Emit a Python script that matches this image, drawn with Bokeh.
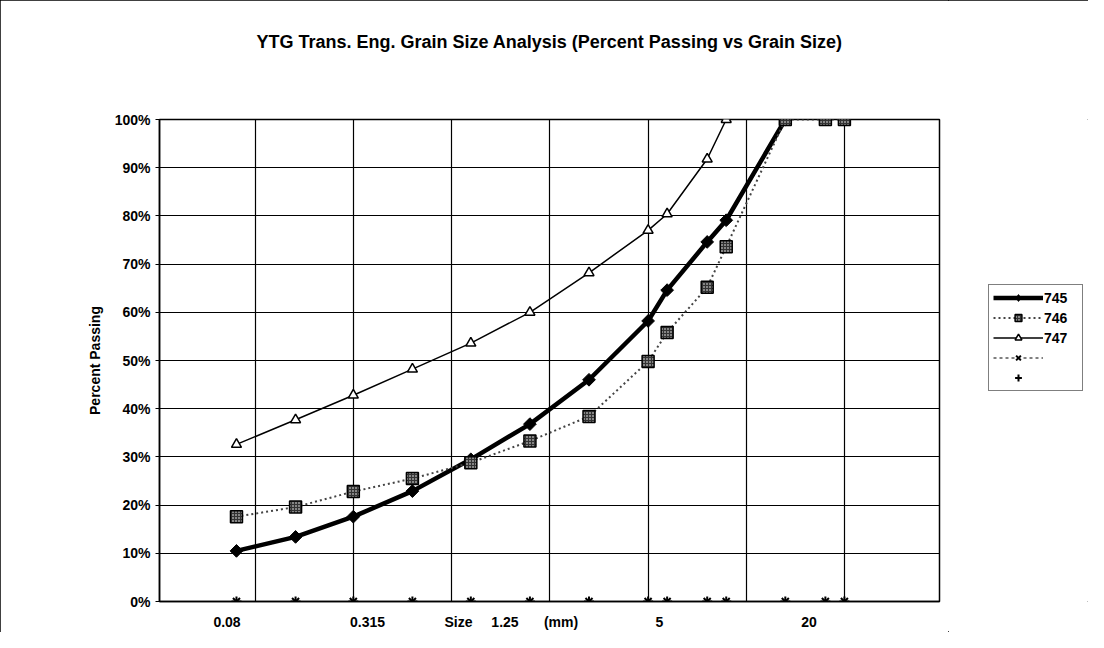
import math
from bokeh.plotting import figure
from bokeh.layouts import row
from bokeh.models import (FixedTicker, Legend, LegendItem, PrintfTickFormatter,
                          Range1d, CustomJSTickFormatter, ColumnDataSource, Title)
from bokeh.embed import file_html
from bokeh.resources import INLINE
from bokeh.core.properties import value

# ---------------- data ----------------
sizes_mm = [0.08, 0.16, 0.315, 0.63, 1.25, 2.5, 5, 10, 12.5, 20, 25, 50, 80, 100]
pass_745 = [10.5, 13.4, 17.6, 22.9, 29.5, 36.8, 46.0, 58.2, 64.6, 74.6, 79.1, 100.0]
pass_746 = [17.6, 19.6, 22.8, 25.5, 28.8, 33.3, 38.4, 49.8, 55.8, 65.2, 73.6, 100.0, 100.0, 100.0]
pass_747 = [32.6, 37.7, 42.8, 48.2, 53.6, 60.0, 68.2, 77.0, 80.4, 91.8, 100.0]
pass_s4 = [0, 0, 0, 0, 0, 0, 0, 0, 0, 0, 0, 0, 0, 0]
pass_s5 = [0, 0, 0, 0, 0, 0, 0, 0, 0, 0, 0, 0, 0, 0]
series_names = ["745", "746", "747", "", ""]
x_tick_text = ["0.08", "0.315", "Size", "1.25", "(mm)", "5", "20"]
y_ticks = [0, 10, 20, 30, 40, 50, 60, 70, 80, 90, 100]
title_text = "YTG Trans. Eng. Grain Size Analysis (Percent Passing vs Grain Size)"

# ---------------- layout / style ----------------
FONT = "Liberation Sans"
x_label_at = [0.0716, 0.372, 1.082, 1.866, 3.60, 11.43, 66.0]
x_grid_at = [0.1, 10 ** -0.5, 1, 10 ** 0.5, 10, 10 ** 1.5, 100]

src745 = ColumnDataSource(dict(x=sizes_mm[:len(pass_745)], y=pass_745))
src746 = ColumnDataSource(dict(x=sizes_mm, y=pass_746))
src747 = ColumnDataSource(dict(x=sizes_mm[:len(pass_747)], y=pass_747))
src4 = ColumnDataSource(dict(x=sizes_mm, y=pass_s4))
src5 = ColumnDataSource(dict(x=sizes_mm, y=pass_s5))

p = figure(width=948, height=632, x_axis_type="log",
           x_range=Range1d(0.03243, 305.1), y_range=Range1d(0, 100),
           output_backend="svg", toolbar_location=None, title=None,
           min_border_left=159, min_border_right=9,
           min_border_top=119, min_border_bottom=29,
           background_fill_color="white", border_fill_color="white")

# spacer (nearest the frame) then the real title above it
p.add_layout(Title(text=" ", text_font_size="10px", standoff=55), "above")
p.add_layout(Title(text=title_text, text_font=FONT, text_font_size="18px",
                   text_font_style="bold", text_color="black", align="center",
                   standoff=0), "above")

p.outline_line_color = "black"
p.outline_line_width = 1.5
p.outline_line_alpha = 1

# axes
xa = p.xaxis[0]
xa.ticker = FixedTicker(ticks=x_label_at)
xa.formatter = CustomJSTickFormatter(args=dict(labels=x_tick_text), code="return labels[index];")
xa.major_tick_out = 0
xa.major_tick_in = 0
xa.minor_tick_out = 0
xa.minor_tick_in = 0
xa.axis_line_color = "black"
xa.axis_line_width = 1.5
xa.major_label_standoff = 12
xa.major_label_text_font = FONT
xa.major_label_text_font_size = "14px"
xa.major_label_text_font_style = "bold"
xa.major_label_text_color = "black"

ya = p.yaxis[0]
ya.ticker = FixedTicker(ticks=y_ticks)
ya.formatter = PrintfTickFormatter(format="%d%%")
ya.major_tick_out = 4
ya.major_tick_in = 0
ya.minor_tick_out = 0
ya.minor_tick_in = 0
ya.axis_line_color = "black"
ya.axis_line_width = 1.5
ya.major_tick_line_color = "black"
ya.major_label_standoff = 5
ya.major_label_text_font = FONT
ya.major_label_text_font_size = "14px"
ya.major_label_text_font_style = "bold"
ya.major_label_text_color = "black"
ya.axis_label = "Percent Passing"
ya.axis_label_text_font = FONT
ya.axis_label_text_font_size = "14px"
ya.axis_label_text_font_style = "bold"
ya.axis_label_text_color = "black"
ya.axis_label_standoff = 9

p.xgrid.ticker = FixedTicker(ticks=x_grid_at)
p.ygrid.ticker = FixedTicker(ticks=y_ticks)
for g in (p.xgrid[0], p.ygrid[0]):
    g.grid_line_color = "black"
    g.grid_line_width = 1.2
    g.grid_line_alpha = 1

# ---------------- series styles ----------------
st745_line = dict(line_color="black", line_width=4.5)
st745_mark = dict(marker="square", angle=math.pi / 4, size=9, fill_color="black", line_color="black")
st745_mark_leg = dict(marker="diamond", size=13, fill_color="black", line_color="black")
st746_line = dict(line_color="#444444", line_width=2, line_dash="2 3")
st746_mark = dict(marker="square", size=12, fill_color="#333333", line_color="black", line_width=1.5,
                  hatch_pattern="dot", hatch_color="white", hatch_scale=3, hatch_weight=1)
st747_line = dict(line_color="black", line_width=1.5)
st747_mark = dict(marker="triangle", size=10, fill_color="white", line_color="black", line_width=1.5)
st4_line = dict(line_color="black", line_width=1, line_dash="3 3")
st4_mark = dict(marker="x", size=10, line_color="black", line_width=2)
st5_mark = dict(marker="cross", size=10, line_color="black", line_width=2)


def draw(fig, m745):
    return [
        [fig.line("x", "y", source=src745, **st745_line), fig.scatter("x", "y", source=src745, **m745)],
        [fig.line("x", "y", source=src746, **st746_line), fig.scatter("x", "y", source=src746, **st746_mark)],
        [fig.line("x", "y", source=src747, **st747_line), fig.scatter("x", "y", source=src747, **st747_mark)],
        [fig.line("x", "y", source=src4, **st4_line), fig.scatter("x", "y", source=src4, **st4_mark)],
        [fig.scatter("x", "y", source=src5, **st5_mark)],
    ]


draw(p, st745_mark)

# ---------------- legend panel (separate figure to the right) ----------------
pl = figure(width=140, height=632, output_backend="svg", toolbar_location=None,
            x_range=Range1d(-20, -10), y_range=Range1d(-20, -10),
            x_axis_location=None, y_axis_location=None,
            min_border_left=0, min_border_right=0, min_border_top=0, min_border_bottom=0,
            background_fill_color="white", border_fill_color="white", title=None)
pl.grid.visible = False
pl.outline_line_color = None

legend_renderers = draw(pl, st745_mark_leg)

legend = Legend(items=[LegendItem(label=value(name), renderers=rs)
                       for name, rs in zip(series_names, legend_renderers)],
                location=(40, 210))
legend.border_line_color = "black"
legend.border_line_width = 1.5
legend.background_fill_color = "white"
legend.padding = 4
legend.margin = 0
legend.spacing = 3
legend.glyph_width = 50
legend.glyph_height = 17
legend.label_height = 17
legend.label_width = 34
legend.label_standoff = 1
legend.label_text_font = FONT
legend.label_text_font_size = "14px"
legend.label_text_font_style = "bold"
legend.label_text_color = "black"
pl.add_layout(legend, "center")

layout = row(p, pl)
layout.styles = {"outline": "1px solid black", "outline-offset": "-1px"}
open("out.html", "w").write(file_html(layout, INLINE))
